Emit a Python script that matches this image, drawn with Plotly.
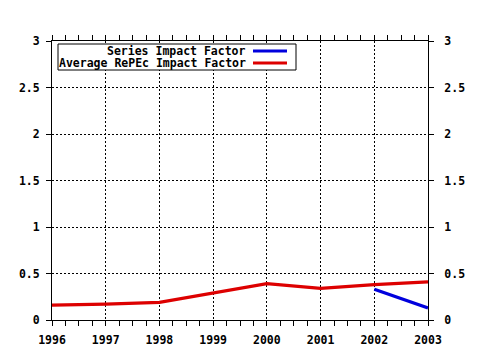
import plotly.graph_objects as go

years = [1996, 1997, 1998, 1999, 2000, 2001, 2002, 2003]
repec_avg = [0.16, 0.17, 0.19, 0.29, 0.39, 0.34, 0.38, 0.41]
series_years = [2002, 2003]
series_if = [0.33, 0.13]
y_ticks = [0, 0.5, 1, 1.5, 2, 2.5, 3]
y_labels = ["0", "0.5", "1", "1.5", "2", "2.5", "3"]
legend_names = ["Series Impact Factor", "Average RePEc Impact Factor"]
colors = ["#0000dd", "#dd0000"]

FONT = dict(family="DejaVu Sans Mono", size=11.5, color="black", weight="bold")

fig = go.Figure()
fig.add_trace(go.Scatter(x=years, y=repec_avg, mode="lines",
                         line=dict(color=colors[1], width=3.2), name=legend_names[1],
                         showlegend=False))
fig.add_trace(go.Scatter(x=series_years, y=series_if, mode="lines",
                         line=dict(color=colors[0], width=3.2), name=legend_names[0],
                         showlegend=False))
fig.add_trace(go.Scatter(x=[years[0]], y=[0], yaxis="y2", mode="markers",
                         marker=dict(opacity=0), showlegend=False, hoverinfo="skip"))

axis_common = dict(showline=True, linecolor="black", linewidth=1, mirror="allticks",
                   showgrid=True, gridcolor="black", griddash="2px,2px", gridwidth=1,
                   zeroline=False, ticks="outside", ticklen=5, tickcolor="black",
                   tickfont=FONT, automargin=False)

fig.update_layout(
    width=480, height=350,
    margin=dict(l=52, r=52, t=41, b=30),
    paper_bgcolor="white", plot_bgcolor="white",
    showlegend=False,
    xaxis=dict(range=[1996, 2003], tickvals=years, ticktext=[str(y) for y in years],
               minor=dict(dtick=0.25, tick0=1996, ticks="outside", ticklen=3,
                          tickcolor="black", showgrid=False),
               ticklabelstandoff=4,
               **axis_common),
    yaxis=dict(range=[0, 3], tickvals=y_ticks, ticktext=y_labels,
               ticklabelstandoff=4, **axis_common),
    yaxis2=dict(range=[0, 3], tickvals=y_ticks, ticktext=y_labels, overlaying="y",
                side="right", showgrid=False, showline=False, zeroline=False,
                ticks="outside", ticklen=5, tickcolor="black", tickfont=FONT,
                ticklabelstandoff=8, automargin=False),
)

pl, pr, pt, pb = 52, 428, 41, 320

def px_x(x):
    return (x - pl) / (pr - pl)

def px_y(y):
    return (pb - y) / (pb - pt)

lx0, lx1, ly0, ly1 = 58, 296, 44, 70
fig.add_shape(type="rect", xref="paper", yref="paper",
              x0=px_x(lx0), x1=px_x(lx1), y0=px_y(ly1), y1=px_y(ly0),
              line=dict(color="black", width=1), fillcolor="white")
rows = [(51, legend_names[0], colors[0]), (63, legend_names[1], colors[1])]
for yy, name, col in rows:
    fig.add_annotation(xref="paper", yref="paper", x=px_x(247), y=px_y(yy),
                       text=name, showarrow=False, xanchor="right", yanchor="middle",
                       font=FONT, borderpad=0)
    fig.add_shape(type="line", xref="paper", yref="paper",
                  x0=px_x(253), x1=px_x(287), y0=px_y(yy), y1=px_y(yy),
                  line=dict(color=col, width=3))

fig.write_html("out.html")
